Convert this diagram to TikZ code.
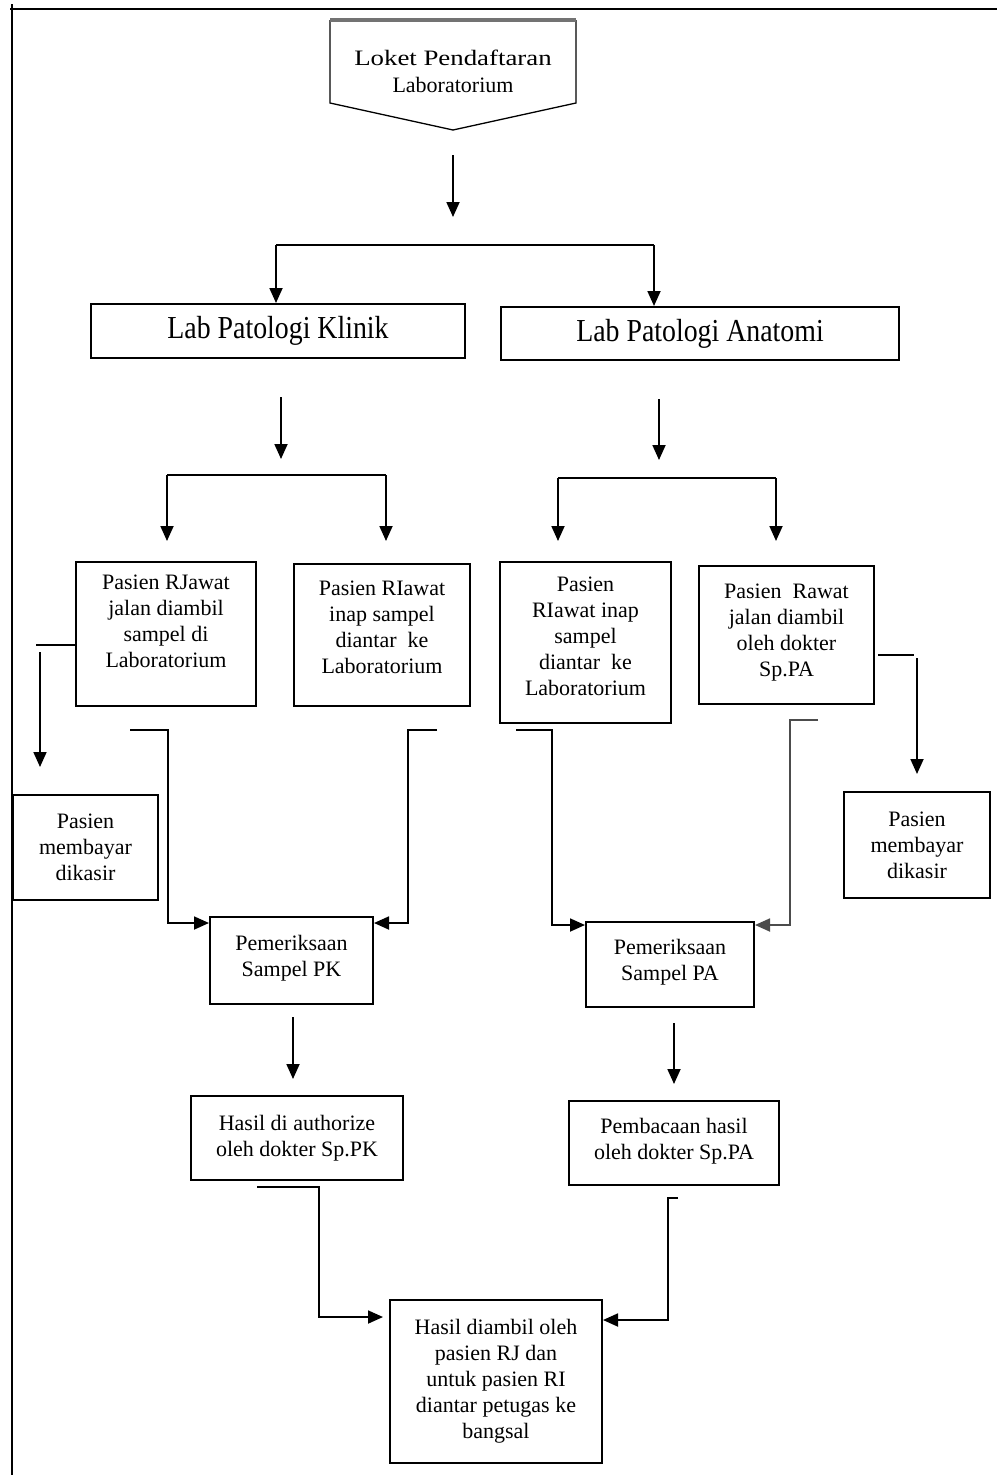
\documentclass[tikz,border=0pt]{standalone}
\usepackage{fontspec}
\setmainfont{Liberation Serif}
\newfontfamily\condserif[FakeStretch=0.87]{Liberation Serif}
\newfontfamily\wideserif[FakeStretch=1.22]{Liberation Serif}
\usetikzlibrary{arrows.meta}
\begin{document}
\begin{tikzpicture}[x=1pt,y=-1pt,
  box/.style={draw, line width=2pt, align=center, inner sep=0pt,
    font=\fontsize{22pt}{26pt}\selectfont},
  bigbox/.style={draw, line width=2pt, inner sep=0pt,
    font=\condserif\fontsize{32pt}{34pt}\selectfont},
  size/.style 2 args={minimum width=#1pt, minimum height=#2pt},
  lift/.style={text depth=#1pt},
  conn/.style={line width=1.8pt},
  arr/.style={line width=1.8pt, -{Triangle[length=15pt,width=13pt]}},
  garr/.style={arr, draw=black!70}]
\useasboundingbox (0,0) rectangle (997,1475);
\fill[white] (0,0) rectangle (997,1475);
% frame
\draw[line width=2pt] (12,4) -- (12,1475);
\draw[line width=2.5pt] (10,9) -- (997,9);

% off-page connector
\draw[line width=1.3pt] (330,20) -- (330,103) -- (453,130) -- (576,103) -- (576,20);
\draw[line width=3.5pt, black!55] (330,20) -- (576,20);
\node[align=center, font=\fontsize{22pt}{27pt}\selectfont] (loket) at (453,71)
  {{\wideserif Loket Pendaftaran}\\Laboratorium};

% main lab boxes
\node[bigbox, size={374}{54}] (pk) at (278,331) {Lab Patologi Klinik};
\node[bigbox, size={398}{53}] (pa) at (700,333.5) {Lab Patologi Anatomi};

% patient boxes
\node[box, size={180}{144}, lift=25] (a) at (166,634)
  {Pasien RJawat\\jalan diambil\\sampel di\\Laboratorium};
\node[box, size={176}{142}, lift=15] (b) at (382,635)
  {Pasien RIawat\\inap sampel\\diantar~ ke\\Laboratorium};
\node[box, size={171}{161}, lift=12] (c) at (585.5,642.5)
  {Pasien\\RIawat inap\\sampel\\diantar~ ke\\Laboratorium};
\node[box, size={175}{138}, lift=10] (d) at (786.5,635)
  {Pasien~ Rawat\\jalan diambil\\oleh dokter\\Sp.PA};
\node[box, size={145}{105}] (lpay) at (85.5,847.5) {Pasien\\membayar\\dikasir};
\node[box, size={146}{106}] (rpay) at (917,845) {Pasien\\membayar\\dikasir};

% examination boxes
\node[box, size={163}{87}, lift=9] (pempk) at (291.5,960.5) {Pemeriksaan\\Sampel PK};
\node[box, size={168}{85}, lift=9] (pempa) at (670,964.5) {Pemeriksaan\\Sampel PA};
\node[box, size={212}{84}, lift=5] (hasil) at (297,1138) {Hasil di authorize\\oleh dokter Sp.PK};
\node[box, size={210}{84}, lift=9] (baca) at (674,1143) {Pembacaan hasil\\oleh dokter Sp.PA};
\node[box, size={212}{163}] (final) at (496,1381.5)
  {Hasil diambil oleh\\pasien RJ dan\\untuk pasien RI\\diantar petugas ke\\bangsal};

% coordinates
\coordinate (s1) at (453,155);
\coordinate (e1) at (453,217);
\coordinate (bl) at (276,245);
\coordinate (br) at (654,245);
\coordinate (s2) at (281,397);
\coordinate (e2) at (281,459);
\coordinate (s3) at (659,399);
\coordinate (e3) at (659,460);
\coordinate (kl) at (167,475);
\coordinate (kr) at (386,475);
\coordinate (kle) at (167,541);
\coordinate (kre) at (386,541);
\coordinate (al) at (558,478);
\coordinate (ar) at (776,478);
\coordinate (ale) at (558,541);
\coordinate (are) at (776,541);
\coordinate (lh) at (36,645);
\coordinate (lvs) at (40,652);
\coordinate (lve) at (40,767);
\coordinate (ea0) at (130,730);
\coordinate (ea1) at (168,730);
\coordinate (ea2) at (168,923);
\coordinate (eb0) at (437,730);
\coordinate (eb1) at (408,730);
\coordinate (eb2) at (408,923);
\coordinate (ec0) at (516,730);
\coordinate (ec1) at (552,730);
\coordinate (ec2) at (552,925);
\coordinate (ed0) at (818,720);
\coordinate (ed1) at (790,720);
\coordinate (ed2) at (790,925);
\coordinate (rh0) at (878,655);
\coordinate (rh1) at (914,655);
\coordinate (rvs) at (917,658);
\coordinate (rve) at (917,774);
\coordinate (s4) at (293,1017);
\coordinate (e4) at (293,1079);
\coordinate (s5) at (674,1023);
\coordinate (e5) at (674,1084);
\coordinate (eh0) at (257,1187);
\coordinate (eh1) at (319,1187);
\coordinate (eh2) at (319,1317);
\coordinate (eh3) at (383,1317);
\coordinate (eg0) at (678,1198);
\coordinate (eg1) at (668,1198);
\coordinate (eg2) at (668,1320);
\coordinate (eg3) at (603,1320);

% connectors
\draw[arr] (s1) -- (e1);
\draw[conn] (bl) -- (br);
\draw[arr] (bl) -- (pk.north -| bl);
\draw[arr] (br) -- (pa.north -| br);
\draw[arr] (s2) -- (e2);
\draw[arr] (s3) -- (e3);
\draw[conn] (kl) -- (kr);
\draw[arr] (kl) -- (kle);
\draw[arr] (kr) -- (kre);
\draw[conn] (al) -- (ar);
\draw[arr] (al) -- (ale);
\draw[arr] (ar) -- (are);

\draw[conn] (lh) -- (a.west |- lh);
\draw[arr] (lvs) -- (lve);
\draw[conn] (rh0) -- (rh1);
\draw[arr] (rvs) -- (rve);

\draw[arr] (ea0) -- (ea1) -- (ea2) -- (ea2 -| pempk.west);
\draw[arr] (eb0) -- (eb1) -- (eb2) -- (eb2 -| pempk.east);
\draw[arr] (ec0) -- (ec1) -- (ec2) -- (ec2 -| pempa.west);
\draw[garr] (ed0) -- (ed1) -- (ed2) -- (ed2 -| pempa.east);

\draw[arr] (s4) -- (e4);
\draw[arr] (s5) -- (e5);

\draw[arr] (eh0) -- (eh1) -- (eh2) -- (eh3);
\draw[arr] (eg0) -- (eg1) -- (eg2) -- (eg3);
\end{tikzpicture}
\end{document}
